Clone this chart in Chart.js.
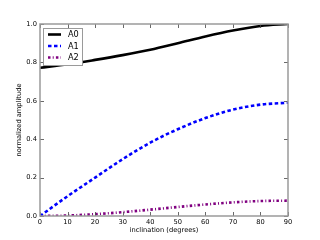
<!DOCTYPE html>
<html>
<head>
<meta charset="utf-8">
<script src="https://cdn.jsdelivr.net/npm/chart.js@4/dist/chart.umd.min.js"></script>
<style>
  html, body { margin: 0; padding: 0; background: #fff; }
  #wrap { width: 320px; height: 240px; }
</style>
</head>
<body>
<div id="wrap"><canvas id="ampChart" width="320" height="240"></canvas></div>
<script>
// inclination (degrees) and amplitudes
const inclinations = [0, 10, 20, 30, 40, 50, 60, 70, 80, 90];
const ampA0 = [0.772, 0.790, 0.813, 0.838, 0.866, 0.900, 0.935, 0.966, 0.990, 1.0];
const ampA1 = [0.0, 0.103, 0.200, 0.296, 0.382, 0.452, 0.510, 0.554, 0.580, 0.590];
const ampA2 = [0.0, 0.0025, 0.0095, 0.020, 0.033, 0.047, 0.060, 0.071, 0.078, 0.080];
const xTicks = [0, 10, 20, 30, 40, 50, 60, 70, 80, 90];
const yTicks = [0.0, 0.2, 0.4, 0.6, 0.8, 1.0];

const FONT = "DejaVu Sans";
const FS = 6.7;

function pts(ys) {
    return inclinations.map((x, i) => ({ x: x, y: ys[i] }));
}

// inward ticks on all four sides + grey frame, like the original
const frameTicks = {
    id: "frameTicks",
    afterDatasetsDraw(chart) {
        const { ctx, chartArea: a, scales } = chart;
        ctx.save();
        ctx.strokeStyle = "#444";
        ctx.lineWidth = 0.8;
        const len = 4;
        xTicks.forEach(v => {
            const px = Math.round(scales.x.getPixelForValue(v)) + 0.5;
            ctx.beginPath();
            ctx.moveTo(px, a.bottom); ctx.lineTo(px, a.bottom - len);
            ctx.moveTo(px, a.top);    ctx.lineTo(px, a.top + len);
            ctx.stroke();
        });
        yTicks.forEach(v => {
            const py = Math.round(scales.y.getPixelForValue(v)) + 0.5;
            ctx.beginPath();
            ctx.moveTo(a.left, py);  ctx.lineTo(a.left + len, py);
            ctx.moveTo(a.right, py); ctx.lineTo(a.right - len, py);
            ctx.stroke();
        });
        ctx.strokeStyle = "#9a9a9a";
        ctx.lineWidth = 1.5;
        ctx.strokeRect(a.left, a.top, a.right - a.left, a.bottom - a.top);
        ctx.restore();
    }
};

// legend box drawn inside the top-left of the plot
const innerLegend = {
    id: "innerLegend",
    afterDraw(chart) {
        const { ctx, chartArea: a } = chart;
        const x0 = a.left + 3, y0 = a.top + 4;
        const w = 39, h = 37;
        ctx.save();
        ctx.fillStyle = "#fff";
        ctx.fillRect(x0, y0, w, h);
        ctx.strokeStyle = "#9a9a9a";
        ctx.lineWidth = 1;
        ctx.strokeRect(x0 + 0.5, y0 + 0.5, w, h);
        chart.data.datasets.forEach((ds, i) => {
            const y = y0 + 6.5 + i * 11.5;
            ctx.strokeStyle = ds.borderColor;
            ctx.lineWidth = ds.borderWidth;
            ctx.setLineDash(ds.borderDash || []);
            ctx.beginPath();
            ctx.moveTo(x0 + 5, y);
            ctx.lineTo(x0 + 18, y);
            ctx.stroke();
            ctx.setLineDash([]);
            ctx.fillStyle = "#000";
            ctx.font = "8.2px '" + FONT + "'";
            ctx.textBaseline = "middle";
            ctx.textAlign = "left";
            ctx.fillText(ds.label, x0 + 25, y + 0.5);
        });
        ctx.restore();
    }
};

new Chart(document.getElementById("ampChart"), {
    type: "line",
    data: {
        datasets: [
            { label: "A0", data: pts(ampA0), borderColor: "#000000", borderWidth: 2.6 },
            { label: "A1", data: pts(ampA1), borderColor: "#0000ff", borderWidth: 2.6, borderDash: [3.5, 2.5] },
            { label: "A2", data: pts(ampA2), borderColor: "#800080", borderWidth: 2.6, borderDash: [2.5, 2.2, 1, 2.2] }
        ]
    },
    options: {
        responsive: false,
        animation: false,
        devicePixelRatio: 1,
        layout: { padding: { left: 0, right: 32, top: 24, bottom: 0 } },
        elements: {
            point: { radius: 0 },
            line: { cubicInterpolationMode: "monotone", fill: false }
        },
        plugins: { legend: { display: false }, tooltip: { enabled: false } },
        scales: {
            x: {
                type: "linear",
                min: 0, max: 90,
                afterBuildTicks: s => { s.ticks = xTicks.map(v => ({ value: v })); },
                afterFit: s => { s.height = 24; },
                grid: { display: false, drawTicks: false },
                border: { display: false },
                ticks: { color: "#000", padding: 2, maxRotation: 0, font: { family: FONT, size: FS } },
                title: { display: true, text: "inclination (degrees)", color: "#000", padding: { top: 0, bottom: 6 }, font: { family: FONT, size: FS } }
            },
            y: {
                type: "linear",
                min: 0, max: 1,
                afterBuildTicks: s => { s.ticks = yTicks.map(v => ({ value: v })); },
                afterFit: s => { s.width = 40; },
                grid: { display: false, drawTicks: false },
                border: { display: false },
                ticks: { color: "#000", padding: 3, callback: v => v.toFixed(1), font: { family: FONT, size: FS } },
                title: { display: true, text: "normalized amplitude", color: "#000", padding: { top: 15, bottom: 0 }, font: { family: FONT, size: FS } }
            }
        }
    },
    plugins: [frameTicks, innerLegend]
});
</script>
</body>
</html>
